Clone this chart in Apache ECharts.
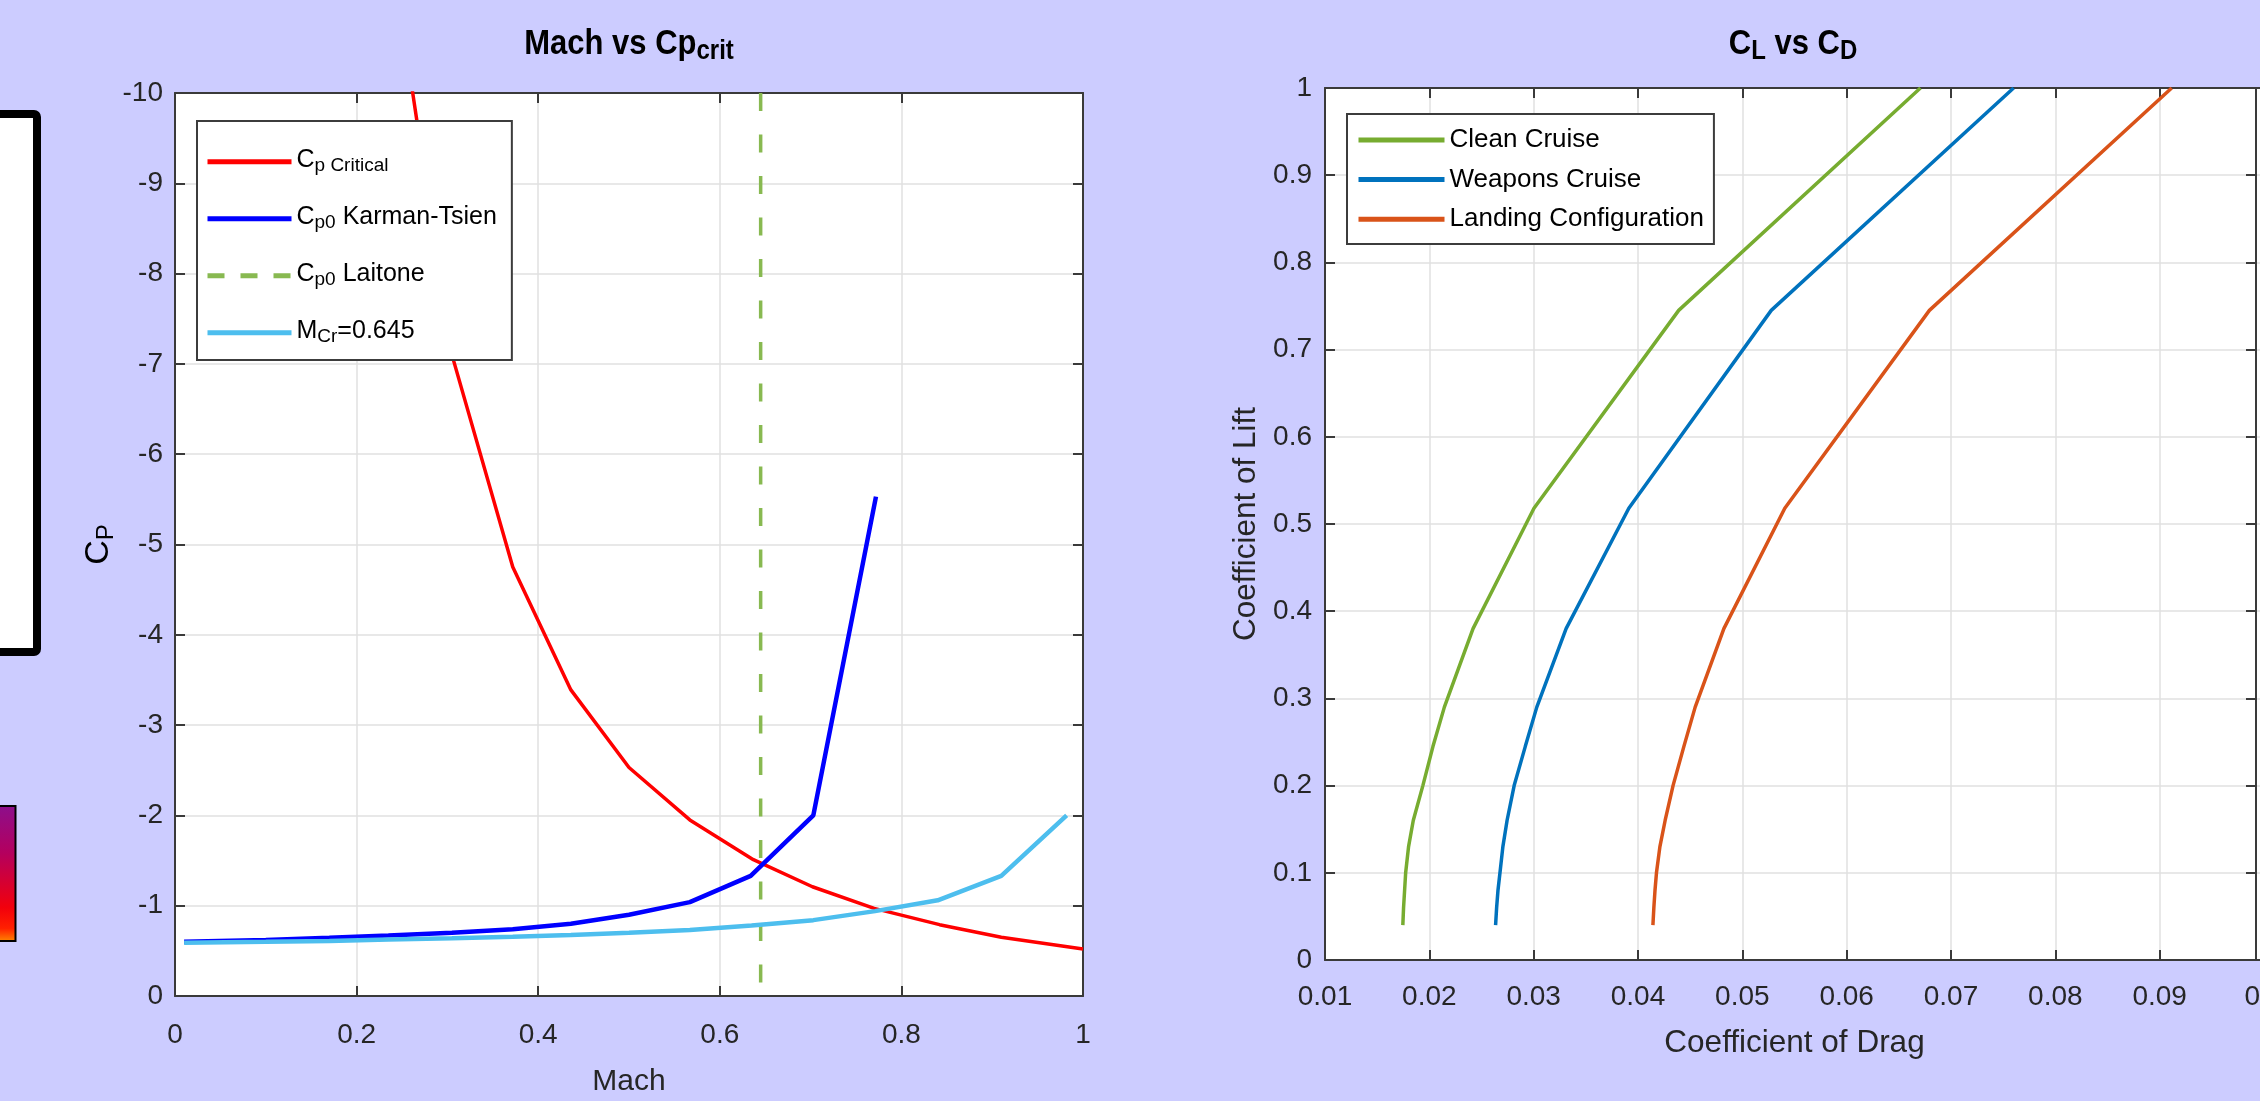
<!DOCTYPE html>
<html>
<head>
<meta charset="utf-8">
<title>Mach vs Cp crit / CL vs CD</title>
<script src="https://cdn.jsdelivr.net/npm/echarts@6/dist/echarts.min.js"></script>
<style>
  html, body { margin: 0; padding: 0; background: #ccccff; }
  #chart { width: 2260px; height: 1101px; }
</style>
</head>
<body>
<div id="chart"></div>
<script>
// ---- left panel: Mach vs Cp ----
const machCrit = [0.235, 0.305, 0.372, 0.436, 0.500, 0.567, 0.637, 0.702, 0.770, 0.842, 0.910, 1.0]
const cpCritical = [-11.8, -7.1, -4.75, -3.39, -2.53, -1.95, -1.51, -1.21, -0.97, -0.79, -0.65, -0.52]

const machKT = [0.01, 0.1, 0.17, 0.235, 0.305, 0.372, 0.436, 0.500, 0.567, 0.634, 0.703, 0.772]
const cpKarmanTsien = [-0.60, -0.62, -0.645, -0.67, -0.70, -0.74, -0.80, -0.90, -1.04, -1.33, -2.00, -5.53]

const machLaitone = [0.645, 0.645]
const cpLaitone = [-10, 0]

const machMcr = [0.01, 0.1, 0.17, 0.235, 0.305, 0.372, 0.436, 0.500, 0.567, 0.635, 0.703, 0.771, 0.840, 0.910, 0.982]
const cpMcr = [-0.59, -0.60, -0.61, -0.625, -0.64, -0.655, -0.675, -0.70, -0.73, -0.78, -0.84, -0.94, -1.06, -1.33, -2.00]

// ---- right panel: CL vs CD ----
const liftCoef = [0.04, 0.06, 0.08, 0.1, 0.13, 0.16, 0.2, 0.245, 0.29, 0.38, 0.518, 0.745, 1.0]
const cdClean = [0.01746, 0.01753, 0.01763, 0.01773, 0.01801, 0.01846, 0.01938, 0.02035, 0.02144, 0.02419, 0.03003, 0.0439, 0.06707]
const cdWeapons = [0.02635, 0.02645, 0.02658, 0.02677, 0.02705, 0.02745, 0.02813, 0.0292, 0.0303, 0.03311, 0.03912, 0.05277, 0.0760]
const cdLanding = [0.04143, 0.04152, 0.04163, 0.04177, 0.0421, 0.0426, 0.04336, 0.0444, 0.04548, 0.04823, 0.05407, 0.06793, 0.09115]

const FONT = "'Liberation Sans', Arial, Helvetica, sans-serif"
const INK = '#262626'
const GRID_COLOR = '#e1e1e1'
const AXIS_COLOR = '#3a3a3a'
const TITLE_STRETCH = 1.12   // titles in the picture are drawn a bit taller than wide

const pairs = (xs, ys) => xs.map((x, i) => [x, ys[i]])
const trim = v => String(+v.toFixed(2))

// main text + lowered subscript; centreDrop = distance between the two text centres
function subRich(size, subSize, centreDrop, bold) {
  const weight = bold ? 'bold' : 'normal'
  const lineM = size + 3
  const lineH = centreDrop + subSize / 2 + lineM / 2
  return {
    m: { fontSize: size, fontWeight: weight, fontFamily: FONT, color: '#000', fill: '#000', lineHeight: lineM, verticalAlign: 'top' },
    s: { fontSize: subSize, fontWeight: weight, fontFamily: FONT, color: '#000', fill: '#000', lineHeight: subSize, padding: [lineH - subSize, 0, 0, 0], verticalAlign: 'bottom' }
  }
}

function frameAxis(extra) {
  return Object.assign({
    type: 'value',
    axisLine: { show: true, onZero: false, lineStyle: { color: AXIS_COLOR, width: 2 } },
    axisTick: { show: true, inside: true, length: 10, lineStyle: { color: AXIS_COLOR, width: 2 } },
    axisLabel: { show: false },
    splitLine: { show: false }
  }, extra)
}

const tickLabel = (margin, formatter) => ({
  show: true, fontSize: 28, color: INK, fontFamily: FONT, margin: margin, formatter: formatter
})
const gridLines = { show: true, lineStyle: { color: GRID_COLOR, width: 1.5 } }

// left legend geometry (box 197..512 x 121..360, rows every 57px)
const lgM = 25, lgS = 19
const lgLine = 17.5 + lgS / 2 + (lgM + 3) / 2
const lgGap = 57 - lgLine
const lgTop = 27.7 - (lgM + 3) / 2
const lgBottom = 239 - lgTop - 4 * lgLine - 3 * lgGap

// right legend geometry (box 1347..1713 x 114..244, rows every 39.6px)
const rgSize = 26
const rgLine = rgSize + 4
const rgGap = 39.6 - rgLine
const rgTop = 26 - rgLine / 2
const rgBottom = 130 - rgTop - 3 * rgLine - 2 * rgGap

const titleSize = 31, titleSub = 24
const titleY = 46 - TITLE_STRETCH * (titleSize + 3) / 2

const leftLegendText = {
  cpCrit: '{m|C}{s|p Critical}',
  cpKT: '{m|C}{s|p0}{m| Karman-Tsien}',
  cpLait: '{m|C}{s|p0}{m| Laitone}',
  mCr: '{m|M}{s|Cr}{m|=0.645}'
}

const chart = echarts.init(document.getElementById('chart'))

const option = {
  backgroundColor: '#ccccff',
  animation: false,
  grid: [
    { left: 175, top: 93, width: 908, height: 903, outerBoundsMode: 'none', show: true, backgroundColor: '#fff', borderWidth: 0 },
    { left: 1325, top: 88, width: 939, height: 872, outerBoundsMode: 'none', show: true, backgroundColor: '#fff', borderWidth: 0 }
  ],
  xAxis: [
    frameAxis({
      gridIndex: 0, min: 0, max: 1, interval: 0.2, position: 'bottom',
      axisLabel: tickLabel(25, trim), splitLine: gridLines,
      name: 'Mach', nameLocation: 'middle', nameGap: 71,
      nameTextStyle: { fontSize: 30, color: INK, fontFamily: FONT }
    }),
    frameAxis({ gridIndex: 0, min: 0, max: 1, interval: 0.2, position: 'top' }),
    frameAxis({
      gridIndex: 1, min: 0.01, max: 0.1, interval: 0.01, position: 'bottom',
      axisLabel: tickLabel(23, trim), splitLine: gridLines,
      name: 'Coefficient of Drag', nameLocation: 'middle', nameGap: 67,
      nameTextStyle: { fontSize: 31.5, color: INK, fontFamily: FONT }
    }),
    frameAxis({ gridIndex: 1, min: 0.01, max: 0.1, interval: 0.01, position: 'top' })
  ],
  yAxis: [
    frameAxis({
      gridIndex: 0, min: -10, max: 0, interval: 1, inverse: true, position: 'left',
      axisLabel: tickLabel(12, trim), splitLine: gridLines,
      name: '{m|C}{s|P}', nameLocation: 'middle', nameGap: 53,
      nameTextStyle: { color: INK, rich: subRich(34, 24, 12, false) }
    }),
    frameAxis({ gridIndex: 0, min: -10, max: 0, interval: 1, inverse: true, position: 'right' }),
    frameAxis({
      gridIndex: 1, min: 0, max: 1, interval: 0.1, position: 'left',
      axisLabel: tickLabel(13, trim), splitLine: gridLines,
      name: 'Coefficient of Lift', nameLocation: 'middle', nameGap: 63,
      nameTextStyle: { fontSize: 31.5, color: INK, fontFamily: FONT }
    }),
    // the box edge sits a little inside x = 0.1 in the picture
    frameAxis({ gridIndex: 1, min: 0, max: 1, interval: 0.1, position: 'right', offset: -8 })
  ],
  legend: [
    {
      data: ['cpCrit', 'cpKT', { name: 'cpLait', lineStyle: { width: 5, type: [17, 16] } }, 'mCr'],
      orient: 'vertical', left: 197, top: 121,
      padding: [lgTop, 15, lgBottom, 8], itemGap: lgGap, itemWidth: 84, itemHeight: 14,
      backgroundColor: '#fff', borderColor: '#3c3c3c', borderWidth: 2,
      lineStyle: { width: 5 }, itemStyle: { opacity: 0 },
      selectedMode: false,
      formatter: name => leftLegendText[name],
      textStyle: { rich: subRich(lgM, lgS, 17.5, false) }
    },
    {
      data: ['Clean Cruise', 'Weapons Cruise', 'Landing Configuration'],
      orient: 'vertical', left: 1347, top: 114,
      padding: [rgTop, 10, rgBottom, 9], itemGap: rgGap, itemWidth: 86, itemHeight: 14,
      backgroundColor: '#fff', borderColor: '#3c3c3c', borderWidth: 2,
      lineStyle: { width: 5 }, itemStyle: { opacity: 0 },
      selectedMode: false,
      textStyle: { fontSize: rgSize, lineHeight: rgLine, color: '#000', fontFamily: FONT }
    }
  ],
  graphic: [
    {
      type: 'text', x: 629, y: titleY, scaleY: TITLE_STRETCH,
      style: { text: '{m|Mach vs Cp}{s|crit}', align: 'center', verticalAlign: 'top', rich: subRich(titleSize, titleSub, 26 / TITLE_STRETCH, true) }
    },
    {
      type: 'text', x: 1793, y: titleY, scaleY: TITLE_STRETCH,
      style: { text: '{m|C}{s|L}{m| vs C}{s|D}', align: 'center', verticalAlign: 'top', rich: subRich(titleSize, titleSub, 23 / TITLE_STRETCH, true) }
    },
    // pieces of the neighbouring figure that got cropped into the picture
    {
      type: 'rect', shape: { x: -20, y: 114, width: 57, height: 538, r: 3 },
      style: { fill: '#fff', stroke: '#000', lineWidth: 8 }
    },
    {
      type: 'rect', shape: { x: -5, y: 806, width: 20.5, height: 135 },
      style: {
        fill: new echarts.graphic.LinearGradient(0, 0, 0, 1, [
          { offset: 0, color: '#8c0f8c' },
          { offset: 0.35, color: '#b4005e' },
          { offset: 0.75, color: '#f2000c' },
          { offset: 0.9, color: '#ff2000' },
          { offset: 1, color: '#ff8a00' }
        ]),
        stroke: '#000', lineWidth: 2
      }
    }
  ],
  series: [
    {
      name: 'cpCrit', type: 'line', xAxisIndex: 0, yAxisIndex: 0,
      data: pairs(machCrit, cpCritical), symbol: 'none',
      lineStyle: { color: '#ff0000', width: 3.5 }, itemStyle: { color: '#ff0000' }
    },
    {
      name: 'cpKT', type: 'line', xAxisIndex: 0, yAxisIndex: 0,
      data: pairs(machKT, cpKarmanTsien), symbol: 'none',
      lineStyle: { color: '#0000ff', width: 4.5 }, itemStyle: { color: '#0000ff' }
    },
    {
      name: 'cpLait', type: 'line', xAxisIndex: 0, yAxisIndex: 0,
      data: pairs(machLaitone, cpLaitone), symbol: 'none',
      lineStyle: { color: '#88b951', width: 3.5, type: [18, 23.5] }, itemStyle: { color: '#88b951' }
    },
    {
      name: 'mCr', type: 'line', xAxisIndex: 0, yAxisIndex: 0,
      data: pairs(machMcr, cpMcr), symbol: 'none',
      lineStyle: { color: '#4dbeee', width: 4.5 }, itemStyle: { color: '#4dbeee' }
    },
    {
      name: 'Clean Cruise', type: 'line', xAxisIndex: 2, yAxisIndex: 2,
      data: pairs(cdClean, liftCoef), symbol: 'none',
      lineStyle: { color: '#77ac30', width: 3.5 }, itemStyle: { color: '#77ac30' }
    },
    {
      name: 'Weapons Cruise', type: 'line', xAxisIndex: 2, yAxisIndex: 2,
      data: pairs(cdWeapons, liftCoef), symbol: 'none',
      lineStyle: { color: '#0072bd', width: 3.5 }, itemStyle: { color: '#0072bd' }
    },
    {
      name: 'Landing Configuration', type: 'line', xAxisIndex: 2, yAxisIndex: 2,
      data: pairs(cdLanding, liftCoef), symbol: 'none',
      lineStyle: { color: '#d95319', width: 3.5 }, itemStyle: { color: '#d95319' }
    }
  ]
}

chart.setOption(option)
</script>
</body>
</html>
